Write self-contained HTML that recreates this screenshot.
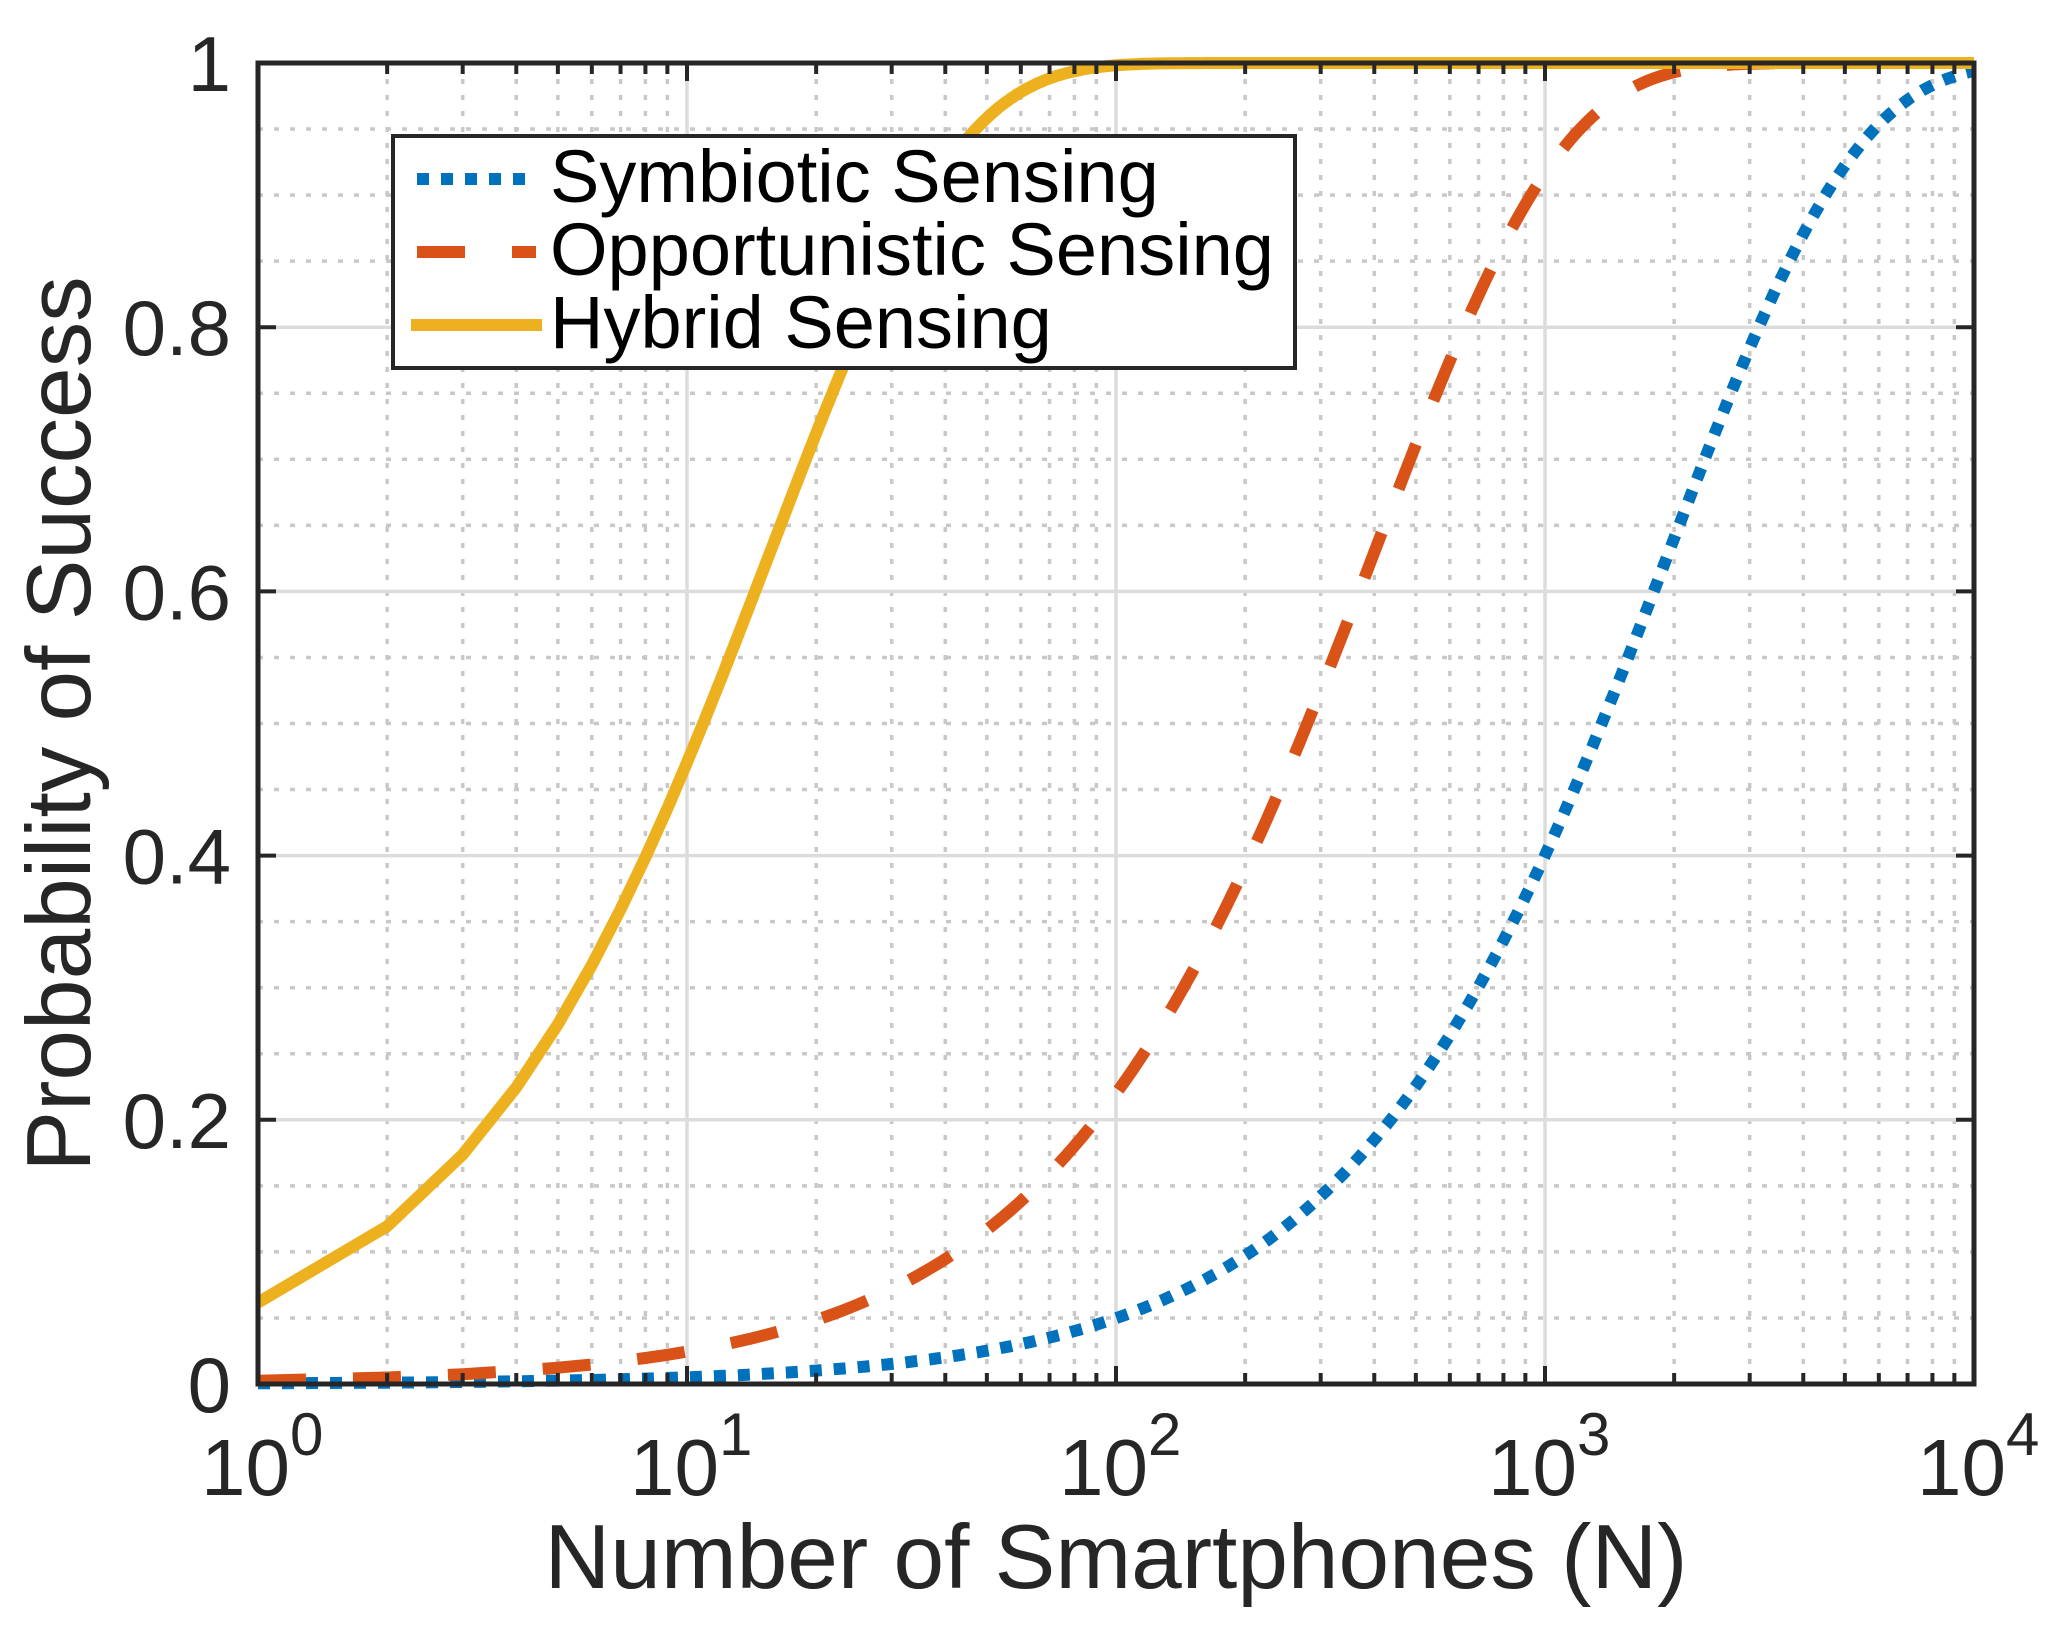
<!DOCTYPE html>
<html><head><meta charset="utf-8"><style>
html,body{margin:0;padding:0;background:#fff;}
svg{display:block;}
text{font-family:"Liberation Sans",Arial,sans-serif;fill:#262626;}
</style></head><body>
<svg id="s" width="2055" height="1630" viewBox="0 0 2055 1630" xmlns="http://www.w3.org/2000/svg">
<rect width="2055" height="1630" fill="#fff"/>
<g id="grid"></g>
<g id="curves"></g>
<g id="axes"></g>
<g id="labels">
<text x="1116" y="1588" font-size="91" text-anchor="middle">Number of Smartphones (N)</text>
<text transform="translate(90,724) rotate(-90)" font-size="91" text-anchor="middle">Probability of Success</text>
</g>
<g id="legend">
<rect x="393" y="136" width="902" height="232" fill="#fff" stroke="#262626" stroke-width="4"/>
<line x1="417" y1="179" x2="536" y2="179" stroke="#0072BD" stroke-width="12" stroke-dasharray="12 12"/>
<line x1="417" y1="252" x2="536" y2="252" stroke="#D95319" stroke-width="12" stroke-dasharray="48 47"/>
<line x1="411" y1="325" x2="542" y2="325" stroke="#EDB120" stroke-width="12"/>
<text x="550" y="202" font-size="74" style="fill:#000">Symbiotic Sensing</text>
<text x="550" y="275" font-size="74" style="fill:#000">Opportunistic Sensing</text>
<text x="550" y="348" font-size="74" style="fill:#000">Hybrid Sensing</text>
</g>
</svg>
<script>
var X0=258,X1=1974,Y0=63,Y1=1384,DW=(X1-X0)/4;
function fx(n){return X0+Math.log10(n)*DW;}
function fy(p){return Y1-(Y1-Y0)*p;}
var NS="http://www.w3.org/2000/svg";
function el(g,t,a){var e=document.createElementNS(NS,t);for(var k in a)e.setAttribute(k,a[k]);document.getElementById(g).appendChild(e);return e;}
for(var d=0;d<4;d++)for(var m=2;m<=9;m++){var x=fx(m*Math.pow(10,d));
 el("grid","line",{x1:x,y1:Y0,x2:x,y2:Y1,stroke:"#c8c8c8","stroke-width":3.5,"stroke-dasharray":"5 11"});}
for(var i=1;i<20;i++){if(i%4==0)continue;var y=fy(i*0.05);
 el("grid","line",{x1:X0,y1:y,x2:X1,y2:y,stroke:"#c8c8c8","stroke-width":3.5,"stroke-dasharray":"5 11"});}
for(var d=1;d<4;d++){var x=fx(Math.pow(10,d));el("grid","line",{x1:x,y1:Y0,x2:x,y2:Y1,stroke:"#dcdcdc","stroke-width":3.5});}
for(var i=1;i<5;i++){var y=fy(i*0.2);el("grid","line",{x1:X0,y1:y,x2:X1,y2:y,stroke:"#dcdcdc","stroke-width":3.5});}
function pts(p){var a=[],n;for(n=1;n<=100;n++)a.push(n);for(var k=2.01;k<=4.0001;k+=0.01)a.push(Math.round(Math.pow(10,k)));
 return a.map(function(n){return fx(n).toFixed(1)+","+fy(1-Math.pow(1-p,n)).toFixed(1);}).join(" ");}
el("curves","polyline",{points:pts(0.000511),fill:"none",stroke:"#0072BD","stroke-width":12,"stroke-dasharray":"12 12"});
el("curves","polyline",{points:pts(0.00248),fill:"none",stroke:"#D95319","stroke-width":12,"stroke-dasharray":"48 47"});
el("curves","polyline",{points:pts(0.0616),fill:"none",stroke:"#EDB120","stroke-width":12});
el("axes","rect",{x:X0,y:Y0,width:X1-X0,height:Y1-Y0,fill:"none",stroke:"#262626","stroke-width":5});
for(var d=0;d<4;d++)for(var m=1;m<=9;m++){var x=fx(m*Math.pow(10,d));var L=(m==1)?18:11;
 el("axes","line",{x1:x,y1:Y1,x2:x,y2:Y1-L,stroke:"#262626","stroke-width":4});
 el("axes","line",{x1:x,y1:Y0,x2:x,y2:Y0+L,stroke:"#262626","stroke-width":4});}
for(var i=1;i<5;i++){var y=fy(i*0.2);
 el("axes","line",{x1:X0,y1:y,x2:X0+18,y2:y,stroke:"#262626","stroke-width":4});
 el("axes","line",{x1:X1,y1:y,x2:X1-18,y2:y,stroke:"#262626","stroke-width":4});}
var yl=["0","0.2","0.4","0.6","0.8","1"];
for(var i=0;i<6;i++){var t=el("labels","text",{x:231,y:fy(i*0.2)+28,"font-size":78,"text-anchor":"end"});t.textContent=yl[i];}
for(var d=0;d<=4;d++){var x=fx(Math.pow(10,d));
 var t=el("labels","text",{x:x-57,y:1495,"font-size":80});t.textContent="10";
 var s=el("labels","text",{x:x+32,y:1455,"font-size":60});s.textContent=String(d);}
</script>
</body></html>
